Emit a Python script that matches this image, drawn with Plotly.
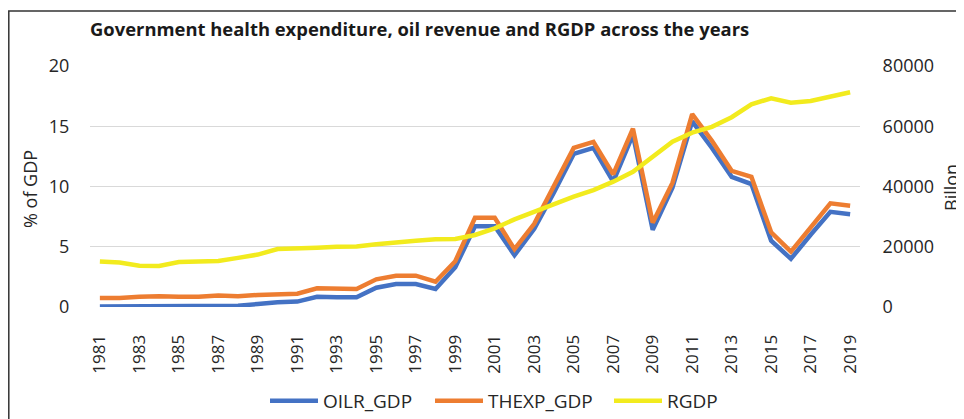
import plotly.graph_objects as go

years = [str(y) for y in range(1981, 2020)]
tick_years = [str(y) for y in range(1981, 2020, 2)]

oilr_gdp = [0.05, 0.05, 0.05, 0.05, 0.05, 0.05, 0.1, 0.1, 0.25, 0.4,
            0.45, 0.85, 0.8, 0.8, 1.6, 1.9, 1.9, 1.5, 3.3, 6.7,
            6.7, 4.3, 6.5, 9.5, 12.7, 13.2, 10.4, 14.3, 6.4, 9.9,
            15.4, 13.2, 10.8, 10.2, 5.5, 4.0, 6.0, 7.9, 7.7]
thexp_gdp = [0.75, 0.75, 0.85, 0.9, 0.85, 0.85, 0.95, 0.9, 1.0, 1.05,
             1.1, 1.55, 1.5, 1.5, 2.3, 2.6, 2.6, 2.1, 3.8, 7.4,
             7.4, 4.8, 6.9, 10.0, 13.2, 13.7, 11.0, 14.8, 7.0, 10.3,
             16.0, 13.8, 11.3, 10.8, 6.2, 4.6, 6.6, 8.6, 8.4]
rgdp = [15100, 14800, 13700, 13600, 14900, 15200, 15300, 16300, 17400, 19250,
        19300, 19700, 20000, 20100, 20800, 21500, 22000, 22450, 22550, 23900,
        26100, 29100, 31600, 34400, 36600, 38800, 41600, 44900, 49900, 54900,
        57900, 59800, 63000, 67300, 69300, 67800, 68400, 69800, 71300]

left_ticks = [0, 5, 10, 15, 20]
right_ticks = [0, 20000, 40000, 60000, 80000]

# page body has an 8px margin, so the figure is sized to fill the rest of the window
OFF = 8
W, H = 964 - OFF, 419 - OFF
L, R, T, B = 90 - OFF, 964 - 860, 66 - OFF, 419 - 307

pw, ph = W - L - R, H - T - B

def px(x):  # screenshot x -> paper fraction
    return (x - OFF - L) / pw

def py(y):  # screenshot y -> paper fraction
    return (H - B - (y - OFF)) / ph

def cx(x):  # screenshot x -> container fraction
    return (x - OFF) / W

def cy(y):  # screenshot y -> container fraction
    return 1 - (y - OFF) / H

FONT = "Open Sans"
TXT = "#262626"

fig = go.Figure()
fig.add_trace(go.Scatter(x=years, y=oilr_gdp, name="OILR_GDP", mode="lines",
                         legend="legend",
                         line=dict(color="#4472C4", width=4.5)))
fig.add_trace(go.Scatter(x=years, y=thexp_gdp, name="THEXP_GDP", mode="lines",
                         legend="legend2",
                         line=dict(color="#ED7D31", width=4.5)))
fig.add_trace(go.Scatter(x=years, y=rgdp, name="RGDP", mode="lines", yaxis="y2",
                         legend="legend3",
                         line=dict(color="#F2EB1E", width=4.5)))

def leg(x_line_start):
    return dict(orientation="h", xref="container", yref="container",
                x=cx(x_line_start) - 5 / W, xanchor="left",
                y=cy(401), yanchor="middle",
                font=dict(family=FONT, size=19, color=TXT),
                itemwidth=48, bgcolor="rgba(0,0,0,0)")

fig.update_layout(
    width=W, height=H,
    margin=dict(l=L, r=R, t=T, b=B, autoexpand=False),
    paper_bgcolor="white", plot_bgcolor="white",
    font=dict(family=FONT, size=18, color=TXT),
    showlegend=True,
    legend=leg(270),
    legend2=leg(435),
    legend3=leg(614),
    xaxis=dict(type="category", categoryorder="array", categoryarray=years,
               tickmode="array", tickvals=tick_years, ticktext=tick_years,
               tickangle=-90, ticks="outside", ticklen=20, tickcolor="rgba(0,0,0,0)",
               showgrid=False, showline=False, zeroline=False, automargin=False,
               range=[-0.5, len(years) - 0.5],
               tickfont=dict(family=FONT, size=17, color=TXT)),
    yaxis=dict(range=[0, 20], tickvals=left_ticks, ticks="outside", ticklen=16,
               tickcolor="rgba(0,0,0,0)", showgrid=True, gridcolor="#D9D9D9",
               gridwidth=1, zeroline=False, showline=False, automargin=False,
               tickfont=dict(family=FONT, size=18, color=TXT)),
    yaxis2=dict(range=[0, 80000], tickvals=right_ticks, overlaying="y", side="right",
                ticks="outside", ticklen=18, tickcolor="rgba(0,0,0,0)",
                showgrid=False, zeroline=False, showline=False, automargin=False,
                tickformat="d",
                tickfont=dict(family=FONT, size=18, color=TXT)),
    title=dict(text="<b>Government health expenditure, oil revenue and RGDP across the years</b>",
               x=cx(90), xanchor="left", xref="container",
               y=cy(30), yanchor="middle", yref="container",
               font=dict(family=FONT, size=18.4, color="#1a1a1a")),
)

fig.add_annotation(text="% of GDP", xref="paper", yref="paper",
                   x=px(30), y=py(189), xanchor="center", yanchor="middle",
                   textangle=-90, showarrow=False,
                   font=dict(family=FONT, size=18, color=TXT))
fig.add_annotation(text="Billon", xref="paper", yref="paper",
                   x=px(951), y=py(188), xanchor="center", yanchor="middle",
                   textangle=-90, showarrow=False,
                   font=dict(family=FONT, size=18, color=TXT))

# outer frame of the original chart image
fig.add_shape(type="rect", xref="paper", yref="paper",
              x0=px(8.8), x1=px(1000), y0=py(11), y1=py(440),
              line=dict(color="#333333", width=1.5), fillcolor="rgba(0,0,0,0)", layer="below")

fig.write_html("out.html")
